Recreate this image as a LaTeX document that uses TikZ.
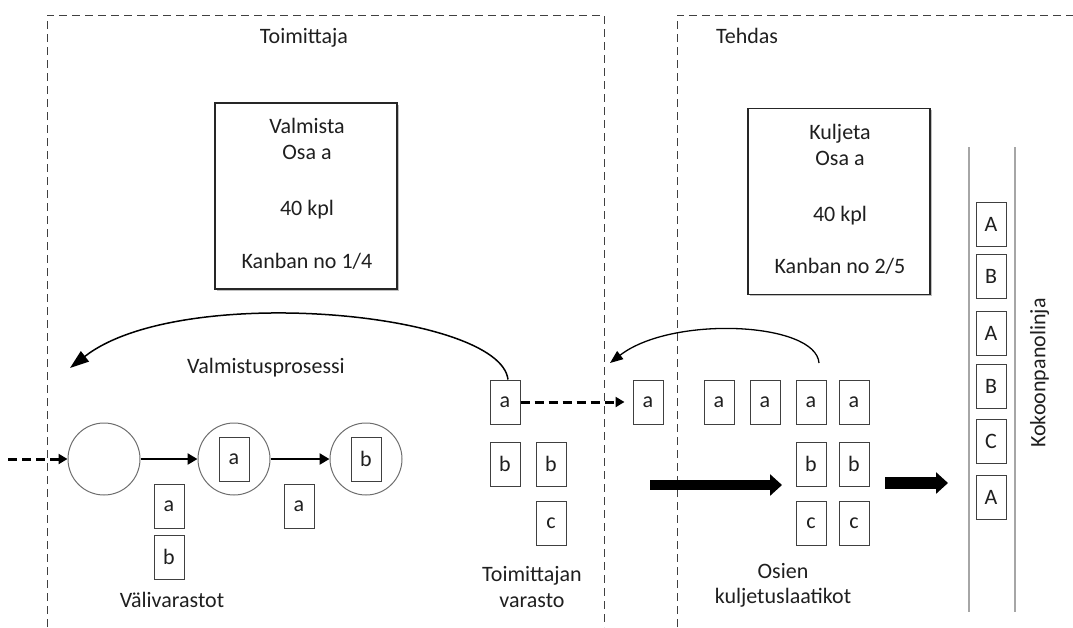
\documentclass[tikz,border=0pt]{standalone}
\usepackage{fontspec}
\setmainfont{Carlito}
\usetikzlibrary{arrows.meta,shadows}

\definecolor{ink}{HTML}{1F1F1F}
\definecolor{edge}{HTML}{404040}
\definecolor{ring}{HTML}{6E6E6E}
\definecolor{rail}{HTML}{A6A6A6}

\begin{document}
\begin{tikzpicture}[x=1pt,y=-1pt,
  every node/.style={font=\fontsize{22}{26}\selectfont, text=ink},
  lbl/.style={inner sep=0pt, text height=0.66em, text depth=0pt},
  zone/.style={draw=edge, line width=1pt, dash pattern=on 8pt off 5pt},
  part/.style={draw=edge, line width=1pt, fill=white, minimum width=30pt,
               minimum height=44pt, inner sep=0pt},
  card/.style={draw=black!85, line width=1.3pt, fill=white, minimum width=182pt,
               minimum height=186pt, inner sep=0pt,
               drop shadow={shadow xshift=1.8pt, shadow yshift=-1.8pt, fill=black, opacity=0.25}},
  station/.style={circle, draw=ring, line width=1pt, minimum size=72pt, inner sep=0pt},
  flow/.style={draw=black, line width=2.8pt, -{Triangle[length=10pt,width=11pt]}},
  pull/.style={draw=black, line width=3pt, dash pattern=on 9pt off 5pt,
               -{Triangle[length=9pt,width=10pt]}},
  bigflow/.style={draw=black, -{Triangle[length=12pt,width=21pt]}},
  feedback/.style={draw=black, line width=1.5pt},
]
\useasboundingbox (0,0) rectangle (1073,627);

% supplier and factory areas
\draw[zone] (47,627) -- (47,15) -- (604,15) -- (604,627);
\draw[zone] (677,627) -- (677,15) -- (1073,15);

\node[lbl] (supplier) at (304,40) {Toimittaja};
\node[lbl] (factory) at (747,40) {Tehdas};

% kanban cards
\node[card] (card1) at (306,196) {};
\node[lbl] (card1l1) at (307,130) {Valmista};
\node[lbl] (card1l2) at (307,156) {Osa a};
\node[lbl] (card1l3) at (307,212) {40 kpl};
\node[lbl] (card1l4) at (307,265) {Kanban no 1/4};

\node[card] (card2) at (839,201.5) {};
\node[lbl] (card2l1) at (840,136) {Kuljeta};
\node[lbl] (card2l2) at (840,162) {Osa a};
\node[lbl] (card2l3) at (840,218) {40 kpl};
\node[lbl] (card2l4) at (840,270) {Kanban no 2/5};

% manufacturing process
\node[lbl] (proc) at (266,370) {Valmistusprosessi};
\node[station] (c1) at (104,459) {};
\node[station] (c2) at (234,459) {};
\node[station] (c3) at (366,459) {};
\node[part] (c2p) at (c2) {a};
\node[part] (c3p) at (c3) {b};
\coordinate (inflow) at (8,459);
\draw[pull] (inflow) -- (c1.west);
\draw[flow] (c1.east) -- (c2.west);
\draw[flow] (c2.east) -- (c3.west);

% intermediate buffers
\node[part] (v1) at (169,506) {a};
\node[part] (v2) at (169,557) {b};
\node[part] (v3) at (299,506) {a};
\node[lbl] (buffers) at (172,604) {Välivarastot};

% supplier warehouse
\node[part] (sa) at (505,402) {a};
\node[part] (sb1) at (505,464) {b};
\node[part] (sb2) at (551,464) {b};
\node[part] (sc) at (551,523) {c};
\node[lbl] (store1) at (532,578) {Toimittajan};
\node[lbl] (store2) at (532,604) {varasto};

% delivered part and transport boxes
\node[part] (ta) at (648,402) {a};
\draw[pull, shorten >=8pt] (sa.east) -- (ta.west);

\node[part] (f1) at (719,402) {a};
\node[part] (f2) at (765,402) {a};
\node[part] (f3) at (811,402) {a};
\node[part] (f4) at (854,402) {a};
\node[part] (fb1) at (811,464) {b};
\node[part] (fb2) at (854,464) {b};
\node[part] (fc1) at (811,523) {c};
\node[part] (fc2) at (854,523) {c};
\node[lbl] (boxes1) at (783,575) {Osien};
\node[lbl] (boxes2) at (783,600) {kuljetuslaatikot};

% material flow
\coordinate (g1s) at (650,485);
\coordinate (g1e) at (782,485);
\coordinate (g2s) at (885,483);
\coordinate (g2e) at (948,483);
\draw[bigflow, line width=10pt] (g1s) -- (g1e);
\draw[bigflow, line width=11.5pt] (g2s) -- (g2e);

% assembly line
\coordinate (r1t) at (969,147);
\coordinate (r1b) at (969,612);
\coordinate (r2t) at (1015,147);
\coordinate (r2b) at (1015,612);
\draw[rail, line width=1.3pt] (r1t) -- (r1b);
\draw[rail, line width=1.3pt] (r2t) -- (r2b);
\node[part] (m1) at (991,224.5) {A};
\node[part] (m2) at (991,276.5) {B};
\node[part] (m3) at (991,333.5) {A};
\node[part] (m4) at (991,386.5) {B};
\node[part] (m5) at (991,441.5) {C};
\node[part] (m6) at (991,497.5) {A};
\node[lbl, rotate=90] (line) at (1042,373) {Kokoonpanolinja};

% kanban feedback loops
\coordinate (k1tip) at (70,368);
\draw[feedback, -{Triangle[length=19pt,width=13pt]}]
  ([xshift=3pt]sa.north) .. controls (500,312) and (180,282) .. (k1tip);
\coordinate (k2start) at (819,363);
\coordinate (k2tip) at (610,363);
\draw[feedback, line width=1.3pt, -{Triangle[length=13pt,width=10pt]}]
  (k2start) .. controls (816,322) and (672,315) .. (k2tip);
\end{tikzpicture}
\end{document}
